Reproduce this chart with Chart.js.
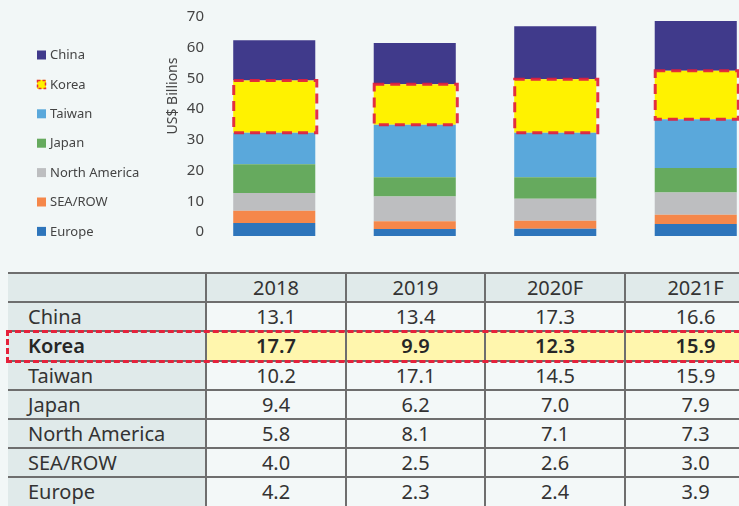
<!DOCTYPE html>
<html>
<head>
<meta charset="utf-8">
<script src="https://cdn.jsdelivr.net/npm/chart.js@4.4.0/dist/chart.umd.min.js"></script>
<style>
  html, body { margin: 0; padding: 0; background: #f2f7f7; overflow: hidden; width: 739px; height: 506px; }
  #wrap { position: absolute; left: 0; top: 0; width: 780px; height: 250px; }
  #tbl { position: absolute; left: 8px; top: 272px; width: 757px; border-collapse: collapse; table-layout: fixed;
         font-family: "Noto Sans", sans-serif; font-size: 20px; color: #333; }
  #tbl td { height: 27.2px; padding: 0; border-top: 2px solid #6e6e6e; border-left: 2px solid #6e6e6e;
            text-align: center; background: #f3f8f8; line-height: 27px; white-space: nowrap; }
  #tbl td:first-child { border-left: none; text-align: left; padding-left: 20px; background: #e0eaea; }
  #tbl tr.head td { background: #e0eaea; }
  #tbl tr.hl td { background: #fff6ad; font-weight: 600; color: #262626; }
  #tbl tr.hl td:first-child { background: #e0eaea; }
  #hlbox { position: absolute; left: 6px; top: 330px; width: 800px; height: 27px; border: 3px dashed #e5223b; }
</style>
</head>
<body>
<div id="wrap"><canvas id="regionChart" width="780" height="250"></canvas></div>
<table id="tbl">
  <colgroup><col style="width:198px"><col style="width:140px"><col style="width:139px"><col style="width:140px"><col style="width:140px"></colgroup>
  <tbody id="tbody"></tbody>
</table>
<div id="hlbox"></div>
<script>
const years = ['2018', '2019', '2020F', '2021F'];

// table values (US$ billions)
const china = [13.1, 13.4, 17.3, 16.6];
const korea = [17.7, 9.9, 12.3, 15.9];
const taiwan = [10.2, 17.1, 14.5, 15.9];
const japan = [9.4, 6.2, 7.0, 7.9];
const northAmerica = [5.8, 8.1, 7.1, 7.3];
const seaRow = [4.0, 2.5, 2.6, 3.0];
const europe = [4.2, 2.3, 2.4, 3.9];

// the Korea segments as drawn in the bars (taller than the table in 2019/2020F)
const koreaBar = [17.0, 13.2, 17.4, 15.8];

const yTicks = [0, 10, 20, 30, 40, 50, 60, 70];

const colors = {
    China: '#403a8b',
    Korea: '#fff200',
    Taiwan: '#5aa8db',
    Japan: '#66aa5e',
    'North America': '#bdbec0',
    'SEA/ROW': '#f5874a',
    Europe: '#2e75bb'
};
const dashRed = 'rgba(226, 30, 60, 0.92)';

// bottom of the stack first
const stack = [
    ['Europe', europe],
    ['SEA/ROW', seaRow],
    ['North America', northAmerica],
    ['Japan', japan],
    ['Taiwan', taiwan],
    ['Korea', koreaBar],
    ['China', china]
];

// legend on the left, China on top
const sideLegend = {
    id: 'sideLegend',
    afterDraw(chart) {
        const c = chart.ctx;
        const items = chart.data.datasets.slice().reverse();
        c.save();
        c.font = '13px "Noto Sans", sans-serif';
        c.textBaseline = 'middle';
        items.forEach((ds, i) => {
            const y = 55 + i * 29.4;
            c.fillStyle = ds.backgroundColor;
            c.fillRect(37, y - 4.5, 9, 9);
            if (ds.label === 'Korea') {
                c.strokeStyle = dashRed;
                c.lineWidth = 1.5;
                c.setLineDash([3, 2]);
                c.strokeRect(37.5, y - 4, 8, 8);
                c.setLineDash([]);
            }
            c.fillStyle = '#444';
            c.fillText(ds.label, 50, y + 0.5);
        });
        c.restore();
    }
};

// rotated axis title, sits above the middle of the axis
const axisTitle = {
    id: 'axisTitle',
    afterDraw(chart) {
        const c = chart.ctx;
        c.save();
        c.translate(173, 96);
        c.rotate(-Math.PI / 2);
        c.font = '14px "Noto Sans", sans-serif';
        c.fillStyle = '#444';
        c.textAlign = 'center';
        c.textBaseline = 'middle';
        c.fillText('US$ Billions', 0, 0);
        c.restore();
    }
};

// dashed red outline round the Korea segments
const koreaOutline = {
    id: 'koreaOutline',
    afterDatasetsDraw(chart) {
        const idx = chart.data.datasets.findIndex(d => d.label === 'Korea');
        const c = chart.ctx;
        c.save();
        c.strokeStyle = dashRed;
        c.lineWidth = 3;
        c.setLineDash([10, 6]);
        chart.getDatasetMeta(idx).data.forEach(bar => {
            const left = bar.x - bar.width / 2;
            c.strokeRect(left + 0.5, bar.y, bar.width + 1, bar.base - bar.y);
        });
        c.restore();
    }
};

const regionChart = new Chart(document.getElementById('regionChart').getContext('2d'), {
    type: 'bar',
    data: {
        labels: years,
        datasets: stack.map(([label, values]) => ({
            label: label,
            data: values,
            backgroundColor: colors[label],
            borderWidth: 0,
            categoryPercentage: 1,
            barPercentage: 0.584
        }))
    },
    options: {
        responsive: false,
        animation: false,
        layout: { padding: { left: 150, right: 14, top: 21, bottom: 14 } },
        plugins: {
            legend: { display: false },
            tooltip: { enabled: false }
        },
        scales: {
            x: { stacked: true, display: false },
            y: {
                stacked: true,
                min: yTicks[0],
                max: yTicks[yTicks.length - 1],
                border: { display: false },
                grid: { display: false, drawTicks: false },
                afterBuildTicks(scale) { scale.ticks = yTicks.map(v => ({ value: v })); },
                afterFit(scale) { scale.width = 54; },
                ticks: {
                    padding: 0,
                    labelOffset: -4,
                    color: '#444',
                    font: { family: 'Noto Sans', size: 15 }
                }
            }
        }
    },
    plugins: [koreaOutline, sideLegend, axisTitle]
});

// data table under the chart
const tableRows = [
    ['China', china],
    ['Korea', korea],
    ['Taiwan', taiwan],
    ['Japan', japan],
    ['North America', northAmerica],
    ['SEA/ROW', seaRow],
    ['Europe', europe]
];
const tbody = document.getElementById('tbody');
const head = document.createElement('tr');
head.className = 'head';
['', ...years].forEach(t => {
    const td = document.createElement('td');
    td.textContent = t;
    head.appendChild(td);
});
tbody.appendChild(head);
tableRows.forEach(([name, values]) => {
    const tr = document.createElement('tr');
    if (name === 'Korea') tr.className = 'hl';
    [name, ...values.map(v => v.toFixed(1))].forEach(t => {
        const td = document.createElement('td');
        td.textContent = t;
        tr.appendChild(td);
    });
    tbody.appendChild(tr);
});
</script>
</body>
</html>
